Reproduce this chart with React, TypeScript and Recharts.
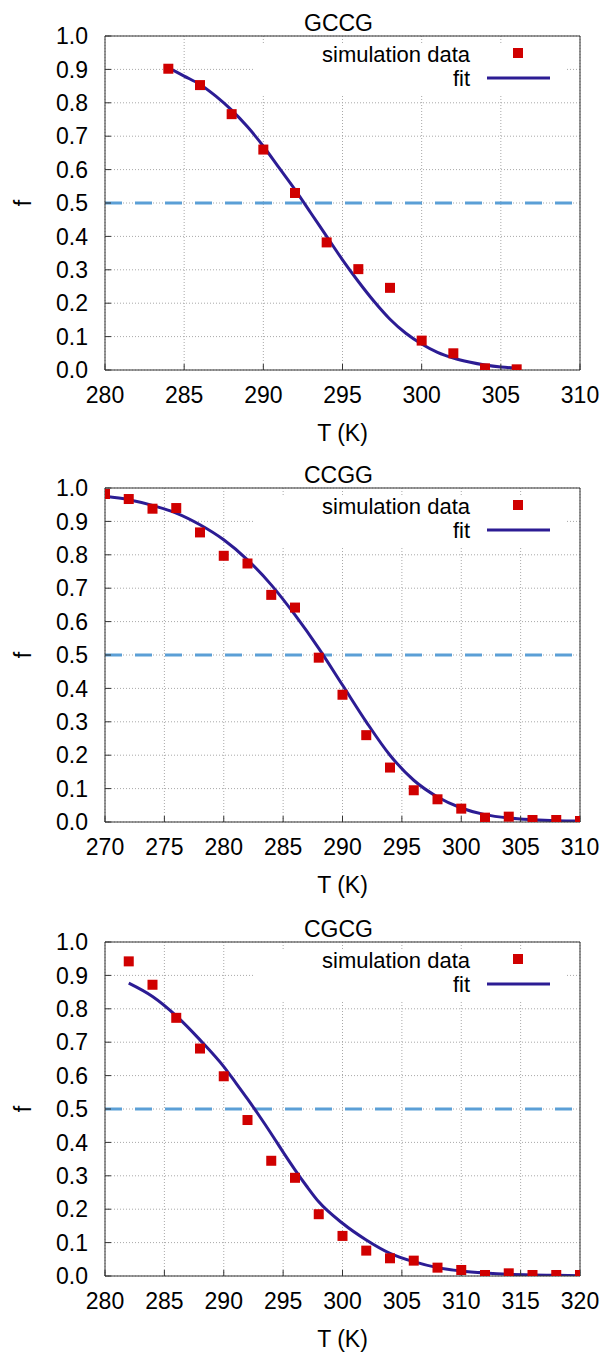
import React from "react"
import {
  ComposedChart,
  Scatter,
  Line,
  XAxis,
  YAxis,
  CartesianGrid,
  ReferenceLine,
  Legend,
  Label,
} from "recharts"

const FONT = '"Liberation Sans", Arial, Helvetica, sans-serif'
const RED = "#d00000"
const BLUE = "#2c1c94"
const DASH = "#5b9fd6"
const GRID = "#a8a8a8"
const BORDER = "#333333"

const HALF = 0.5
const F_TICKS = [0, 0.1, 0.2, 0.3, 0.4, 0.5, 0.6, 0.7, 0.8, 0.9, 1.0]

// GCCG
const GCCG_TICKS = [280, 285, 290, 295, 300, 305, 310]
const GCCG_T = [284, 286, 288, 290, 292, 294, 296, 298, 300, 302, 304, 306]
const GCCG_F = [0.902, 0.853, 0.766, 0.66, 0.53, 0.382, 0.302, 0.246, 0.088, 0.05, 0.005, 0.002]
const GCCG_FIT_T = [284, 285, 286, 287, 288, 289, 290, 291, 292, 293, 294, 295, 296, 297, 298, 299, 300, 301, 302, 303, 304, 305, 306]
const GCCG_FIT_F = [0.905, 0.88, 0.855, 0.82, 0.778, 0.728, 0.67, 0.605, 0.54, 0.47, 0.4, 0.33, 0.265, 0.205, 0.152, 0.11, 0.078, 0.053, 0.036, 0.024, 0.015, 0.009, 0.006]

// CCGG
const CCGG_TICKS = [270, 275, 280, 285, 290, 295, 300, 305, 310]
const CCGG_T = [270, 272, 274, 276, 278, 280, 282, 284, 286, 288, 290, 292, 294, 296, 298, 300, 302, 304, 306, 308, 310]
const CCGG_F = [0.982, 0.967, 0.938, 0.94, 0.867, 0.797, 0.774, 0.68, 0.642, 0.492, 0.381, 0.26, 0.163, 0.095, 0.068, 0.04, 0.013, 0.016, 0.006, 0.006, 0.003]
const CCGG_FIT_T = [270, 272, 274, 276, 278, 280, 282, 284, 286, 288, 290, 292, 294, 296, 298, 300, 302, 304, 306, 308, 310]
const CCGG_FIT_F = [0.975, 0.965, 0.948, 0.925, 0.89, 0.845, 0.785, 0.71, 0.62, 0.52, 0.41, 0.3, 0.2, 0.125, 0.075, 0.042, 0.022, 0.012, 0.007, 0.004, 0.003]

// CGCG
const CGCG_TICKS = [280, 285, 290, 295, 300, 305, 310, 315, 320]
const CGCG_T = [282, 284, 286, 288, 290, 292, 294, 296, 298, 300, 302, 304, 306, 308, 310, 312, 314, 316, 318, 320]
const CGCG_F = [0.942, 0.872, 0.773, 0.681, 0.598, 0.467, 0.345, 0.294, 0.185, 0.12, 0.076, 0.053, 0.046, 0.025, 0.018, 0.003, 0.008, 0.003, 0.003, 0.003]
const CGCG_FIT_T = [282, 284, 286, 288, 290, 291, 292, 293, 294, 295, 296, 297, 298, 300, 302, 304, 306, 308, 310, 312, 314, 316, 318, 320]
const CGCG_FIT_F = [0.877, 0.837, 0.779, 0.707, 0.627, 0.579, 0.53, 0.479, 0.426, 0.371, 0.318, 0.268, 0.222, 0.158, 0.108, 0.068, 0.043, 0.025, 0.015, 0.009, 0.005, 0.003, 0.002, 0.001]

const zip = (t: number[], f: number[]) => t.map((T, i) => ({ T, f: f[i] }))

const PANELS = [
  { title: "GCCG", ticks: GCCG_TICKS, sim: zip(GCCG_T, GCCG_F), fit: zip(GCCG_FIT_T, GCCG_FIT_F), top: 0 },
  { title: "CCGG", ticks: CCGG_TICKS, sim: zip(CCGG_T, CCGG_F), fit: zip(CCGG_FIT_T, CCGG_FIT_F), top: 452 },
  { title: "CGCG", ticks: CGCG_TICKS, sim: zip(CGCG_T, CGCG_F), fit: zip(CGCG_FIT_T, CGCG_FIT_F), top: 906 },
]

const Square = (props: any) => {
  const { cx, cy } = props
  if (cx == null || cy == null) return null
  return <rect x={cx - 5} y={cy - 5} width={10} height={10} fill={RED} />
}

// gnuplot style key: opaque box, labels right-aligned, sample to the right
const KeyBox = () => (
  <svg width={312} height={51} style={{ display: "block", background: "#fff", fontFamily: FONT }}>
    <text x={215} y={19} textAnchor="end" fontSize={22} fill="#000">simulation data</text>
    <rect x={258} y={5} width={10} height={10} fill={RED} />
    <text x={215} y={43} textAnchor="end" fontSize={22} fill="#000">fit</text>
    <line x1={232} x2={295} y1={35} y2={35} stroke={BLUE} strokeWidth={3} />
  </svg>
)

function Panel({ panel }: { panel: (typeof PANELS)[number] }) {
  const domain = [panel.ticks[0], panel.ticks[panel.ticks.length - 1]]
  const tickStyle = { fontSize: 23, fill: "#000", fontFamily: FONT }
  return (
    <div style={{ position: "absolute", left: 0, top: panel.top }}>
      <ComposedChart width={603} height={452} margin={{ top: 0, right: 0, bottom: 0, left: 0 }} style={{ fontFamily: FONT }}>
        <CartesianGrid stroke={GRID} strokeDasharray="1 2" />
        <XAxis
          dataKey="T"
          type="number"
          domain={domain}
          ticks={panel.ticks}
          interval={0}
          height={82}
          tickSize={-6}
          tickMargin={23}
          tick={tickStyle}
          stroke={BORDER}
          allowDataOverflow
        >
          <Label
            content={(p: any) => (
              <text x={p.viewBox.x + p.viewBox.width / 2} y={p.viewBox.y + 71} textAnchor="middle" fontSize={23} fill="#000" fontFamily={FONT}>
                T (K)
              </text>
            )}
          />
        </XAxis>
        <XAxis
          xAxisId="top"
          orientation="top"
          type="number"
          domain={domain}
          ticks={panel.ticks}
          interval={0}
          height={36}
          tickSize={-6}
          tick={false}
          stroke={BORDER}
          allowDataOverflow
        >
          <Label
            content={(p: any) => (
              <text x={p.viewBox.x + p.viewBox.width / 2 - 4} y={31} textAnchor="middle" fontSize={23} fill="#000" fontFamily={FONT}>
                {panel.title}
              </text>
            )}
          />
        </XAxis>
        <YAxis
          type="number"
          domain={[0, 1]}
          ticks={F_TICKS}
          interval={0}
          width={105}
          tickSize={-6}
          tickMargin={23}
          tick={tickStyle}
          tickFormatter={(v: number) => v.toFixed(1)}
          stroke={BORDER}
          allowDataOverflow
        >
          <Label
            content={(p: any) => {
              const cy = p.viewBox.y + p.viewBox.height / 2
              return (
                <text x={23} y={cy} transform={`rotate(-90 23 ${cy})`} textAnchor="middle" dominantBaseline="central" fontSize={23} fill="#000" fontFamily={FONT}>
                  f
                </text>
              )
            }}
          />
        </YAxis>
        <YAxis
          yAxisId="right"
          orientation="right"
          type="number"
          domain={[0, 1]}
          ticks={F_TICKS}
          interval={0}
          width={23}
          tickSize={-6}
          tick={false}
          stroke={BORDER}
          allowDataOverflow
        />
        <ReferenceLine y={HALF} stroke={DASH} strokeWidth={3} strokeDasharray="17 13" />
        <Scatter data={panel.sim} dataKey="f" shape={Square} isAnimationActive={false} />
        <Line data={panel.fit} dataKey="f" type="monotone" stroke={BLUE} strokeWidth={3} dot={false} isAnimationActive={false} />
        <Legend
          layout="vertical"
          align="center"
          verticalAlign="middle"
          wrapperStyle={{ left: 255, top: 43, width: 312, height: 51 }}
          content={() => <KeyBox />}
        />
      </ComposedChart>
    </div>
  )
}

export default function App() {
  return (
    <div style={{ position: "absolute", left: 0, top: 0, width: 603, height: 1352, background: "#fff", overflow: "hidden" }}>
      {PANELS.map((p) => (
        <Panel key={p.title} panel={p} />
      ))}
    </div>
  )
}
